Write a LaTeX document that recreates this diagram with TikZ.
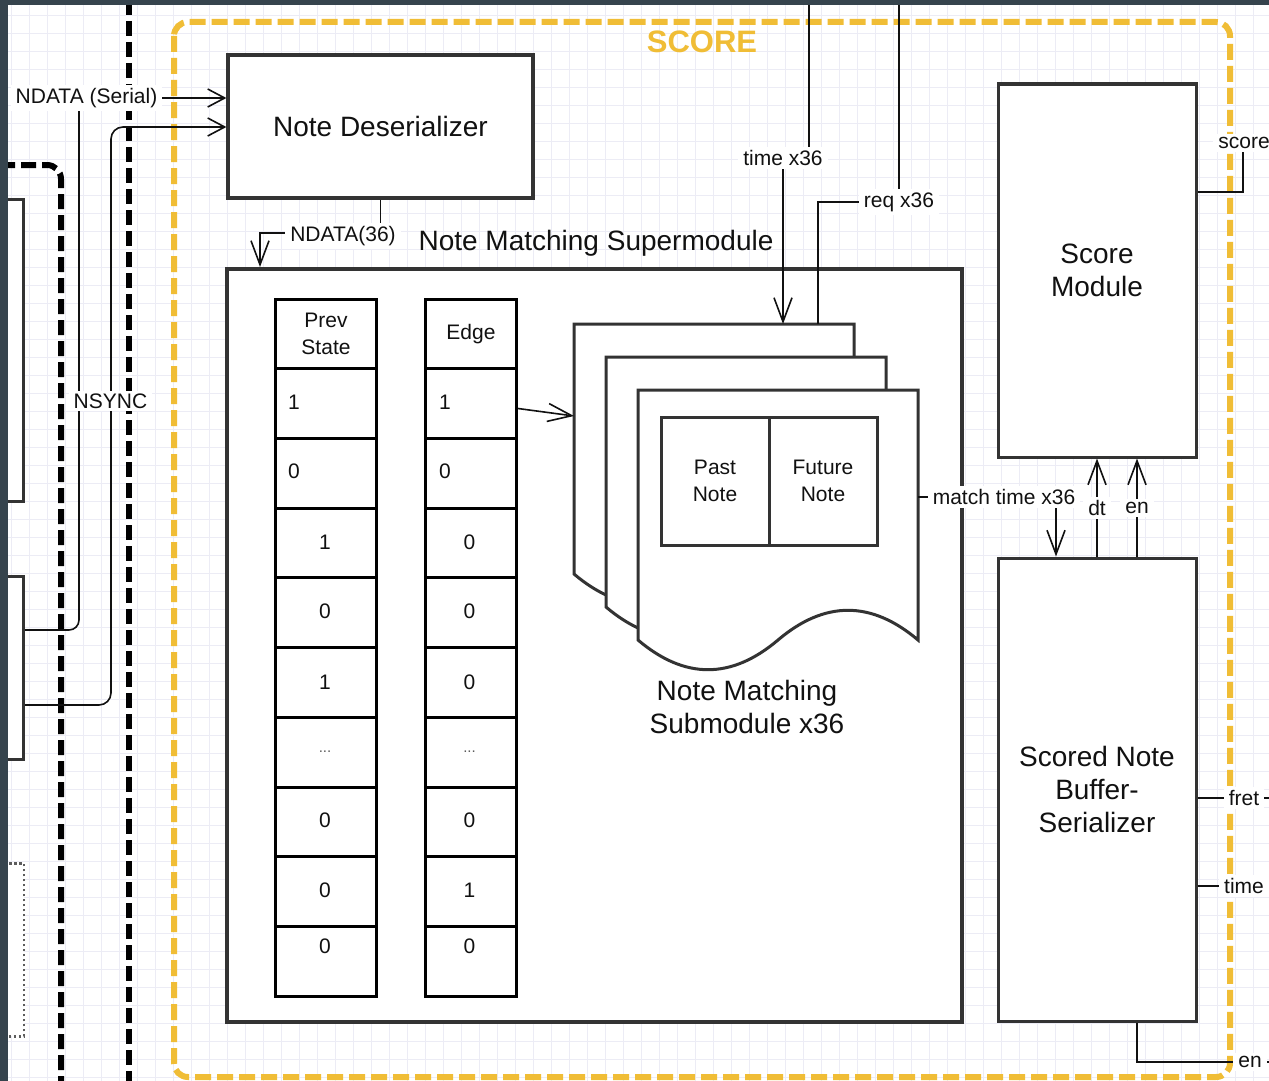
\documentclass[tikz,border=0pt]{standalone}
\usepackage{fontspec}
\setmainfont{Liberation Sans}
\usetikzlibrary{arrows.meta,calc}

\definecolor{slate}{HTML}{36444D}
\definecolor{gold}{HTML}{F0BD36}
\definecolor{frame}{HTML}{333333}
\definecolor{gridc}{HTML}{ECECF5}
\definecolor{ink}{HTML}{111111}

\tikzset{
  lbl/.style={font=\fontsize{21}{24}\selectfont, text=ink, fill=white, inner xsep=5pt, inner ysep=3pt},
  bigtext/.style={font=\fontsize{28}{33}\selectfont, text=ink, align=center},
  block/.style={draw=frame, line width=3pt, fill=white, inner sep=0pt},
  cellbox/.style={draw=black, line width=3pt, fill=white, inner sep=0pt, anchor=north west},
  celltxt/.style={font=\fontsize{21}{27}\selectfont, text=ink, inner sep=0pt},
  conn/.style={draw=ink, line width=1.6pt},
  arr/.style={conn, -{Straight Barb[length=24pt,width=18pt]}},
  shortarr/.style={conn, -{Straight Barb[length=17pt,width=18pt]}},
  bus/.style={draw=black, line width=6pt, dash pattern=on 15pt off 6pt},
  docpage/.style={draw=frame, line width=3pt, fill=white, line join=miter},
  gridline/.style={draw=gridc, line width=0.8pt},
}

\begin{document}
\begin{tikzpicture}[x=1pt, y=-1pt]
\useasboundingbox (0,0) rectangle (1269,1081);
\clip (0,0) rectangle (1269,1081);

% paper and drawing grid
\fill[white] (0,0) rectangle (1269,1081);
\foreach \k in {0,...,70} \draw[gridline] ({11.7+18*\k},0) -- ++(0,1081);
\foreach \k in {0,...,60} \draw[gridline] (0,{15.7+18*\k}) -- ++(1269,0);

% SCORE boundary
\draw[gold, line width=6pt, dash pattern=on 16pt off 6pt, rounded corners=14pt]
  (174,22) rectangle (1230,1077);
\node[font=\bfseries\fontsize{31}{36}\selectfont, text=gold] (scoretitle) at (702,42) {SCORE};

% neighbouring blocks on the left
\node[block, minimum width=60pt, minimum height=302pt, anchor=north east] (srca) at (25,198) {};
\node[block, minimum width=60pt, minimum height=183pt, anchor=north east] (srcb) at (25,575) {};
\node[draw=frame!80, line width=2.5pt, dash pattern=on 2.5pt off 2.5pt, fill=white,
      inner sep=0pt, minimum width=60pt, minimum height=173pt, anchor=north east] (srcc) at (25,862) {};

% module boundaries
\draw[bus, rounded corners=14pt] (0,165) -- (61,165) -- (61,1090);
\draw[bus] (129,0) -- (129,1090);

% main blocks
\node[block, line width=3.2pt, minimum width=305pt, minimum height=143pt, bigtext] (deser) at (380.5,126.5) {Note Deserializer};
\node[block, line width=4pt, minimum width=735pt, minimum height=753pt] (super) at (594.5,645.5) {};
\node[bigtext] (supertitle) at (596,243) {Note Matching Supermodule};
\node[block, minimum width=198pt, minimum height=373pt, bigtext] (scoremod) at (1097,270.5) {Score\\Module};
\node[block, minimum width=198pt, minimum height=463pt, bigtext] (buffer) at (1097,789.5) {Scored Note\\Buffer-\\Serializer};

% state tables
\node[cellbox, minimum width=101pt, minimum height=69pt, celltxt, align=center] (ps0) at (274,298) {Prev\\State};
\node[cellbox, minimum width=91pt, minimum height=69pt, celltxt] (ed0) at (424,298) {Edge};
\foreach \r in {1,...,9} {
  \node[cellbox, minimum width=101pt, minimum height=70pt] (ps\r) at (274,{367+69.75*(\r-1)}) {};
  \node[cellbox, minimum width=91pt, minimum height=70pt] (ed\r) at (424,{367+69.75*(\r-1)}) {};
}
\foreach \r/\ty/\pv/\ev/\px/\ex in {1/402/1/1/294/445, 2/471/0/0/294/445, 3/542/1/0/325/469.5,
    4/611/0/0/325/469.5, 5/682/1/0/325/469.5, 7/820/0/0/325/469.5, 8/890/0/1/325/469.5, 9/946/0/0/325/469.5} {
  \node[celltxt] (pst\r) at (\px,\ty) {\pv};
  \node[celltxt] (edt\r) at (\ex,\ty) {\ev};
}
\node[celltxt, text=frame!80, font=\fontsize{15}{18}\selectfont] (pst6) at (325,752) {...};
\node[celltxt, text=frame!80, font=\fontsize{15}{18}\selectfont] (edt6) at (469.5,752) {...};

% stacked note matching submodules
\foreach \i/\dx/\dy in {1/574/324, 2/606/357, 3/638/390} {
  \node[minimum width=280pt, minimum height=283pt, inner sep=0pt, anchor=north west] (doc\i) at (\dx,\dy) {};
  \draw[docpage, shift={(\dx,\dy)}] (0,0) -- (280,0) -- (280,250)
    .. controls (233.3,210.4) and (186.7,210.4) .. (140,250)
    .. controls (93.3,289.6) and (46.7,289.6) .. (0,250) -- cycle;
}
\node[block, minimum width=108pt, minimum height=128pt, celltxt, align=center] (past) at (715,481) {Past\\Note};
\node[block, minimum width=108pt, minimum height=128pt, celltxt, align=center] (future) at (823,481) {Future\\Note};
\node[bigtext] (subtitle) at (747,707) {Note Matching\\Submodule x36};

% label anchors
\coordinate (serialpt) at (79,98);
\coordinate (syncpt) at (111,127);
\coordinate (nd36pt) at (260,233);
\coordinate (timetop) at (809,0);
\coordinate (timept) at (783,158);
\coordinate (reqtop) at (899,0);
\coordinate (reqpt) at (899,202);
\coordinate (reqdrop) at (818,0);
\coordinate (matchpt) at (1056,497);
\coordinate (enx) at (1137,0);
\coordinate (scorey) at (0,192);
\coordinate (scorept) at (1243,143);
\coordinate (fretend) at (1290,798);
\coordinate (timeend) at (1290,886);
\coordinate (enend) at (1290,1062);

% connectors
\draw[shortarr, rounded corners=10pt] ($(srcb.north east)+(0,55)$) -| (serialpt) -- (deser.west |- serialpt);
\draw[shortarr, rounded corners=12pt] ($(srcb.north east)+(0,130)$) -| (syncpt) -- (deser.west |- syncpt);
\draw[arr] (deser.south) |- (nd36pt) -- (nd36pt |- super.north);
\draw[arr] ($(ed1.east)+(0,5)$) -- ($(doc1.north west)+(0,92)$);
\draw[arr] (timetop) |- (timept) -- (timept |- doc1.north);
\draw[conn] (reqdrop |- doc1.north) |- (reqpt) -- (reqtop);
\draw[arr] (doc3.east |- matchpt) -- (matchpt) -- (matchpt |- buffer.north);
\draw[arr] (buffer.north) -- (scoremod.south);
\draw[arr] (buffer.north -| enx) -- (scoremod.south -| enx);
\draw[conn] (scoremod.east |- scorey) -| (scorept);
\draw[conn] (buffer.east |- fretend) -- (fretend);
\draw[conn] (buffer.east |- timeend) -- (timeend);
\draw[conn] (buffer.south -| enx) |- (enend);

% connector labels
\node[lbl] (serialtxt) at (86.5,98) {NDATA (Serial)};
\node[lbl] (synctxt) at (110.5,401) {NSYNC};
\node[lbl] (nd36txt) at (343,236) {NDATA(36)};
\node[lbl] (timetxt) at (timept) {time x36};
\node[lbl] (reqtxt) at (reqpt) {req x36};
\node[lbl] (matchtxt) at (1004,497) {match time x36};
\node[lbl] (dttxt) at (1097,508) {dt};
\node[lbl] (entxt) at (1137,508) {en};
\node[lbl] (scoretxt) at (1244,143) {score};
\node[lbl] (frettxt) at (1244,798) {fret};
\node[lbl] (timeouttxt) at (1244,886) {time};
\node[lbl] (enouttxt) at (1250,1062) {en};

% window edges
\fill[slate] (0,0) rectangle (8,1081);
\fill[slate] (0,0) rectangle (1269,5);
\end{tikzpicture}
\end{document}
